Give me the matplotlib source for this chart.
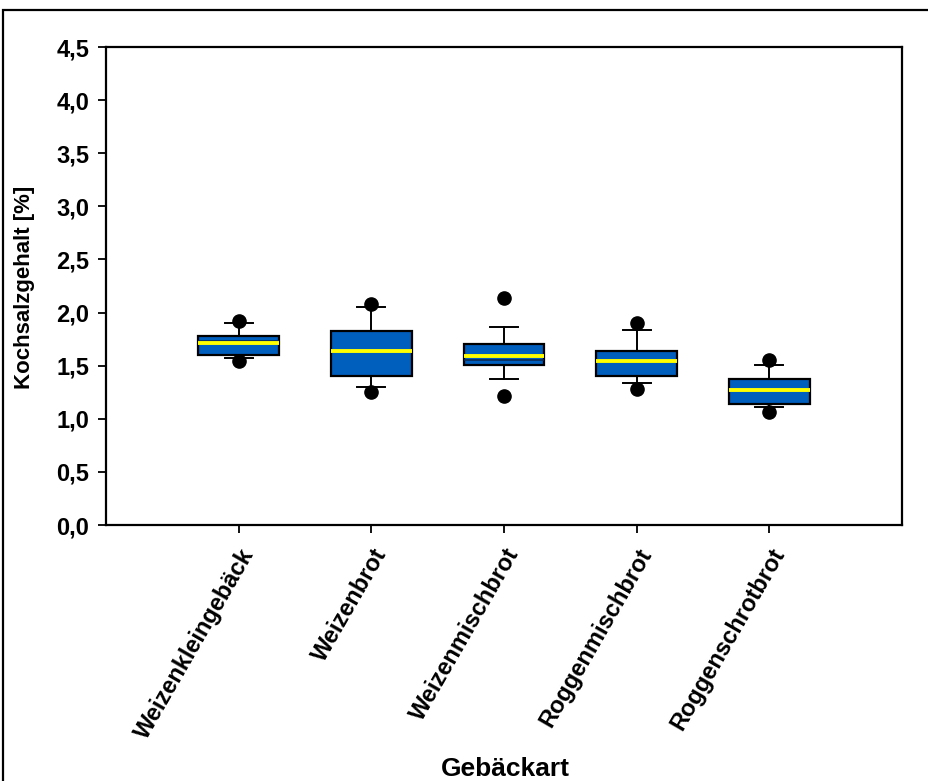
import numpy as np
import matplotlib.pyplot as plt
from matplotlib.patches import Rectangle

plt.rcParams['font.family'] = ['Liberation Sans', 'DejaVu Sans']
plt.rcParams['font.weight'] = 'bold'

# salt content per bread type (percentiles read as box statistics)
sorts = ["Weizenkleingebäck", "Weizenbrot", "Weizenmischbrot", "Roggenmischbrot", "Roggenschrotbrot"]
q1 = [1.60, 1.40, 1.51, 1.40, 1.14]
q3 = [1.78, 1.83, 1.70, 1.64, 1.37]
median = [1.71, 1.64, 1.59, 1.54, 1.27]
mean = [1.73, 1.64, 1.55, 1.53, 1.27]
whislo = [1.57, 1.30, 1.37, 1.34, 1.11]
whishi = [1.90, 2.05, 1.86, 1.84, 1.51]
p_low = [1.54, 1.25, 1.21, 1.28, 1.06]
p_high = [1.92, 2.08, 2.14, 1.90, 1.55]

stats = []
for i in range(len(sorts)):
    stats.append({"q1": q1[i], "q3": q3[i], "med": median[i], "mean": mean[i],
                  "whislo": whislo[i], "whishi": whishi[i],
                  "fliers": [p_low[i], p_high[i]]})

fig = plt.figure(figsize=(9.29, 7.81), dpi=100)
ax = fig.add_axes([106/929, 1-525/781, (902-106)/929, (525-47)/781])

pos = np.arange(1, len(sorts) + 1)
ax.bxp(stats, positions=pos, widths=0.61, patch_artist=True, showmeans=True, meanline=True,
       boxprops=dict(facecolor='#005EBD', edgecolor='black', linewidth=1.6),
       medianprops=dict(color='#FFFF00', linewidth=2.8, zorder=3.5),
       meanprops=dict(color='#0B2A55', linewidth=1.2, linestyle='-', zorder=3),
       whiskerprops=dict(color='black', linewidth=1.4),
       capprops=dict(color='black', linewidth=1.4),
       capwidths=0.21,
       flierprops=dict(marker='o', markerfacecolor='black', markeredgecolor='black', markersize=9.5))

ax.set_xlim(0, 6)
ax.set_ylim(0, 4.5)
ax.set_yticks(np.arange(0, 4.51, 0.5))
ax.set_yticklabels([f"{v:.1f}".replace('.', ',') for v in np.arange(0, 4.51, 0.5)], fontsize=17, fontweight='bold')
ax.set_xticks(pos)
ax.set_xticklabels(sorts, rotation=60, ha='right', rotation_mode='anchor', fontsize=17, fontweight='bold')
ax.tick_params(direction='out', length=6, width=1.3, color='black')
ax.tick_params(axis='y', pad=6)
ax.tick_params(axis='x', pad=8)
for s in ax.spines.values():
    s.set_linewidth(1.6)

fig.text(25/929, 1-287/781, "Kochsalzgehalt [%]", rotation=90, ha='center', va='center', fontsize=16, fontweight='bold')
fig.text(505/929, 1-769/781, "Gebäckart", ha='center', va='center', fontsize=19, fontweight='bold')

# frame around the whole graphic page
fig.add_artist(Rectangle((3/929, -0.1), 1.2, 1.1 - 10/781, transform=fig.transFigure,
                         fill=False, edgecolor='black', linewidth=1.6, clip_on=False))

fig.savefig("out.png", dpi=100)
